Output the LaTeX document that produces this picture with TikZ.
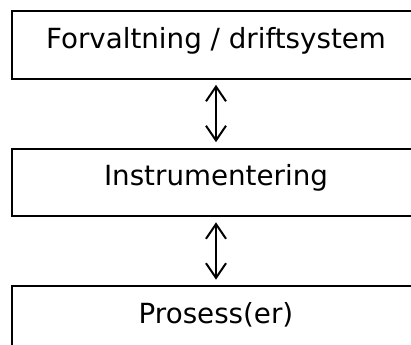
\documentclass[tikz,border=0pt]{standalone}
\usepackage{fontspec}
\setmainfont{DejaVu Sans}
\usepackage{tikz}
\usetikzlibrary{arrows.meta,positioning}

\begin{document}
\begin{tikzpicture}[
    x=0.75pt,y=-0.75pt,
    node distance=51pt,
    layer/.style={draw,line width=1.5pt,minimum width=306pt,inner sep=0pt,
      text height=27.8pt,text depth=22.8pt,font=\fontsize{20.8}{25}\selectfont},
    link/.style={{Straight Barb[length=11pt,width=15pt]}-{Straight Barb[length=11pt,width=15pt]},
      line width=1.5pt,shorten <=4pt,shorten >=4pt}
  ]
    \useasboundingbox (0,0) rectangle (411,345);
    \clip (0,0) rectangle (411,345);
    \node[layer] (mgmt) at (216,44.8) {Forvaltning / driftsystem};
    \node[layer,below=of mgmt] (instr) {Instrumentering};
    \node[layer,below=of instr] (proc) {Prosess(er)};
    \draw[link] (mgmt) -- (instr);
    \draw[link] (instr) -- (proc);
  \end{tikzpicture}
\end{document}
